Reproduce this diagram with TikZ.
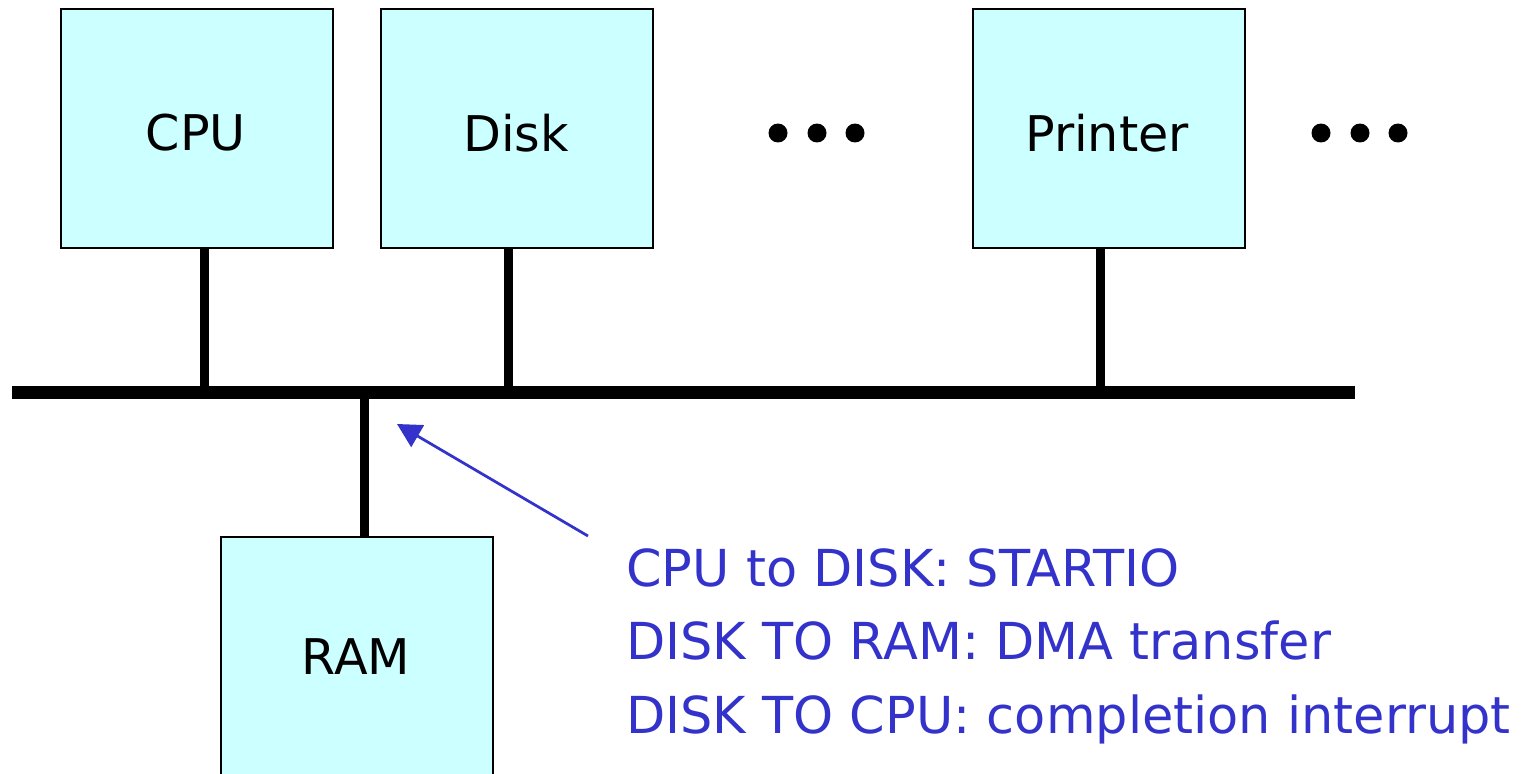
\documentclass[tikz,border=0pt]{standalone}
\usepackage{fontspec}
\setmainfont{DejaVu Sans}
\usetikzlibrary{arrows.meta}
\definecolor{boxfill}{HTML}{CCFFFF}
\definecolor{notecol}{HTML}{3333CC}
\tikzset{
  unitbox/.style={draw=black, line width=0.04cm, fill=boxfill, minimum width=5.44cm, minimum height=4.78cm, inner sep=0pt, anchor=north west},
  boxlabel/.style={font=\fontsize{28}{32}\selectfont},
  buswire/.style={line width=0.26cm, line cap=butt},
  tapwire/.style={line width=0.18cm},
  notearrow/.style={draw=notecol, line width=0.055cm, -{Triangle[length=0.48cm, width=0.5cm]}},
  notetext/.style={text=notecol, font=\fontsize{29}{42}\selectfont, align=left, anchor=north west, inner sep=0pt},
  dot/.style={circle, fill=black, minimum size=0.38cm, inner sep=0pt}
}
\begin{document}
\begin{tikzpicture}[x=0.02cm, y=-0.02cm]
\useasboundingbox (0,0) rectangle (1522,774);
% bus and the units hanging off it
\node[unitbox] (cpu) at (60,8) {};
\node[unitbox] (disk) at (380,8) {};
\node[unitbox] (printer) at (972,8) {};
\node[unitbox] (ram) at (220,536) {};
\node[boxlabel] (cpul) at (196,133) {CPU};
\node[boxlabel] (diskl) at (516,133) {Disk};
\node[boxlabel] (printerl) at (1107,133) {Printer};
\node[boxlabel] (raml) at (356,657) {RAM};
\coordinate (busL) at (12,392);
\coordinate (busR) at (1355,392);
\coordinate (tapcpu) at (204,392);
\coordinate (tapdisk) at (508,392);
\coordinate (tapprinter) at (1100,392);
\coordinate (tapram) at (364,392);
\draw[tapwire] (tapcpu) -- (tapcpu |- cpu.south);
\draw[tapwire] (tapdisk) -- (tapdisk |- disk.south);
\draw[tapwire] (tapprinter) -- (tapprinter |- printer.south);
\draw[tapwire] (tapram) -- (tapram |- ram.north);
\draw[buswire] (busL) -- (busR);
% ellipses
\node[dot] (d1) at (778,133) {};
\node[dot] (d2) at (817,133) {};
\node[dot] (d3) at (855,133) {};
\node[dot] (e1) at (1321,133) {};
\node[dot] (e2) at (1360,133) {};
\node[dot] (e3) at (1398,133) {};
% annotation
\coordinate (arrowtip) at (397,424);
\coordinate (arrowfoot) at (588,536);
\draw[notearrow] (arrowfoot) -- (arrowtip);
\node[notetext] (note) at (626,548) {CPU to DISK: STARTIO\\DISK TO RAM: DMA transfer\\DISK TO CPU: completion interrupt};
\end{tikzpicture}
\end{document}
